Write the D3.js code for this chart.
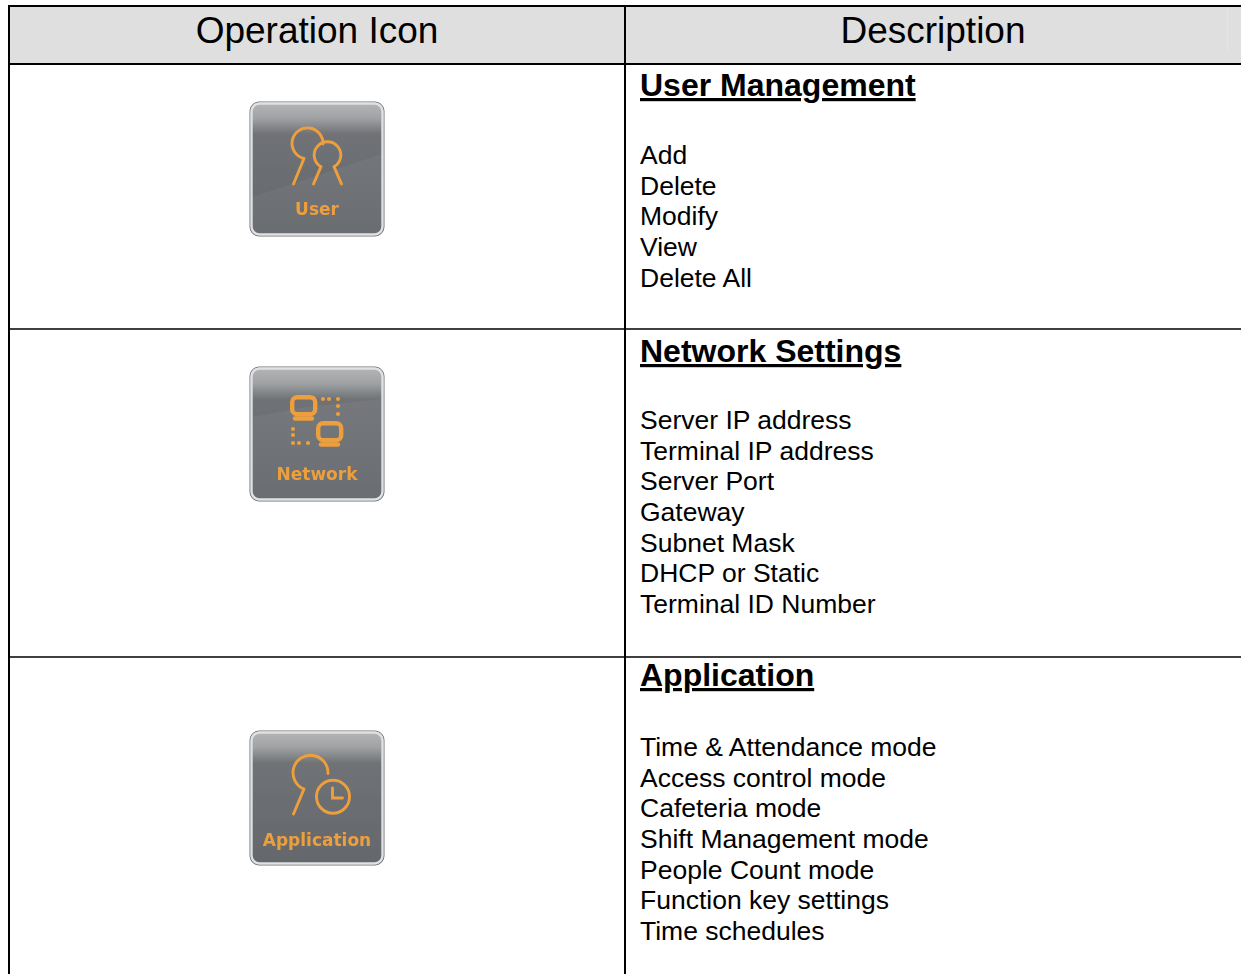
<!DOCTYPE html>
<html>
<head>
<meta charset="utf-8">
<script src="https://cdn.jsdelivr.net/npm/d3@7"></script>
<style>
    html, body { margin: 0; padding: 0; background: #fff; overflow: hidden; }
    svg { display: block; }
    text { font-family: "Liberation Sans", Arial, sans-serif; fill: #000; }
</style>
</head>
<body>
<svg id="table"></svg>
<script>
// table content
var headers = ["Operation Icon", "Description"];
var titles = ["User Management", "Network Settings", "Application"];
var iconLabels = ["User", "Network", "Application"];
var userItems = ["Add", "Delete", "Modify", "View", "Delete All"];
var networkItems = ["Server IP address", "Terminal IP address", "Server Port", "Gateway", "Subnet Mask", "DHCP or Static", "Terminal ID Number"];
var applicationItems = ["Time & Attendance mode", "Access control mode", "Cafeteria mode", "Shift Management mode", "People Count mode", "Function key settings", "Time schedules"];
var sections = [userItems, networkItems, applicationItems];

var w = 1241;
var h = 977;
var tableLeft = 9, mid = 625, tableTop = 6, headBottom = 64;
var rowLines = [329, 657];
var titleBase = [96, 362, 686];
var itemBase = [164, 429, 756];
var iconTop = [102, 367, 731];
var labelBase = [112.5, 112.5, 114.5];
var pitch = 30.65;
var iconSize = 134;
var orange = "#ee9f3c";

var svg = d3.select("#table").attr("width", w).attr("height", h);
var defs = svg.append("defs");

var grad = defs.append("linearGradient").attr("id", "iconBg")
    .attr("x1", 0).attr("y1", 0).attr("x2", 0).attr("y2", 1);
grad.append("stop").attr("offset", "0").attr("stop-color", "#b4b6b8");
grad.append("stop").attr("offset", "0.12").attr("stop-color", "#a0a2a4");
grad.append("stop").attr("offset", "0.24").attr("stop-color", "#6f7276");
grad.append("stop").attr("offset", "1").attr("stop-color", "#64676b");

defs.append("filter").attr("id", "soft")
    .append("feGaussianBlur").attr("stdDeviation", 0.45);

// header background
svg.append("rect").attr("x", tableLeft).attr("y", tableTop).attr("width", w - tableLeft).attr("height", headBottom - tableTop).attr("fill", "#dfdfdf");
svg.append("line").attr("x1", 1227.5).attr("x2", 1227.5).attr("y1", tableTop + 2).attr("y2", 50).attr("stroke", "#e6e6e6");

// grid lines
var hLines = [tableTop, headBottom].concat(rowLines);
svg.selectAll("line.h").data(hLines).enter().append("line")
    .attr("class", "h")
    .attr("x1", tableLeft - 1).attr("x2", w)
    .attr("y1", function (d) { return d; }).attr("y2", function (d) { return d; })
    .attr("stroke", "#000")
    .attr("stroke-width", function (d, i) { return i < 2 ? 2.2 : 1.6; });
svg.selectAll("line.v").data([tableLeft, mid]).enter().append("line")
    .attr("class", "v")
    .attr("x1", function (d) { return d; }).attr("x2", function (d) { return d; })
    .attr("y1", tableTop - 1).attr("y2", 974)
    .attr("stroke", "#000").attr("stroke-width", 2);

// headers
svg.selectAll("text.head").data(headers).enter().append("text")
    .attr("class", "head")
    .attr("x", function (d, i) { return i === 0 ? 317 : 933; })
    .attr("y", 43)
    .attr("text-anchor", "middle")
    .attr("font-size", 37)
    .text(function (d) { return d; });

// section titles
svg.selectAll("text.title").data(titles).enter().append("text")
    .attr("class", "title")
    .attr("x", 640)
    .attr("y", function (d, i) { return titleBase[i]; })
    .attr("font-size", 32)
    .attr("font-weight", "bold")
    .attr("text-decoration", "underline")
    .text(function (d) { return d; });

// section items
sections.forEach(function (items, s) {
    var y = d3.scaleLinear().domain([0, 1]).range([itemBase[s], itemBase[s] + pitch]);
    svg.selectAll("text.item" + s).data(items).enter().append("text")
        .attr("class", "item" + s)
        .attr("x", 640)
        .attr("y", function (d, i) { return y(i); })
        .attr("font-size", 26.5)
        .text(function (d) { return d; });
});

// icon drawings
function drawUser(g) {
    g.append("path").attr("d", "M54 56.5 A15.5 15.5 0 1 1 73 42 M54 56.5 L43.5 82");
    g.append("path").attr("d", "M71 64.7 A13.3 13.3 0 1 1 84 64.7 M71 64.7 L63.5 82 M84 64.7 L91.5 82");
}

function drawNetwork(g) {
    var monitors = [[40, 28], [66, 54]];
    monitors.forEach(function (m) {
        g.append("rect").attr("x", m[0] + 2.2).attr("y", m[1] + 2.2).attr("width", 23).attr("height", 17).attr("rx", 5).attr("stroke-width", 4.4);
        g.append("path").attr("d", "M" + (m[0] + 5) + " " + (m[1] + 23.5) + " h17").attr("stroke-width", 4.5);
    });
    var dots = [[73, 32], [79, 32], [88, 32], [88, 39], [88, 47], [43, 62], [43, 68], [43, 76], [49, 76], [58, 76]];
    g.selectAll("circle.dot").data(dots).enter().append("circle")
        .attr("class", "dot")
        .attr("cx", function (d) { return d[0]; })
        .attr("cy", function (d) { return d[1]; })
        .attr("r", 2.1)
        .attr("fill", orange).attr("stroke", "none");
}

function drawApplication(g) {
    g.append("path").attr("d", "M54 58 A17.5 17.5 0 1 1 78 42.5 M54 58 L43.5 83");
    g.append("circle").attr("cx", 83).attr("cy", 65.7).attr("r", 16.5);
    g.append("path").attr("d", "M82.5 57 V67 H92.5");
}

var drawers = [drawUser, drawNetwork, drawApplication];
var sheens = ["M2 95 L132 52 V132 H2 Z", "M2 50 L50 41 L132 32 V132 H2 Z", ""];

var icons = svg.selectAll("g.icon").data(iconLabels).enter().append("g")
    .attr("class", "icon")
    .attr("transform", function (d, i) { return "translate(250," + iconTop[i] + ")"; })
    .attr("filter", "url(#soft)");

icons.append("rect")
    .attr("width", iconSize).attr("height", iconSize).attr("rx", 9)
    .attr("fill", "url(#iconBg)")
    .attr("stroke", "#6e7074").attr("stroke-width", 1);
icons.append("path")
    .attr("d", function (d, i) { return sheens[i]; })
    .attr("fill", "#fff").attr("fill-opacity", 0.045);
icons.append("rect")
    .attr("x", 1.5).attr("y", 1.5)
    .attr("width", iconSize - 3).attr("height", iconSize - 3).attr("rx", 8)
    .attr("fill", "none")
    .attr("stroke", "#dfe1e3").attr("stroke-width", 2.4);

icons.each(function (d, i) {
    var g = d3.select(this).append("g")
        .attr("fill", "none")
        .attr("stroke", orange)
        .attr("stroke-width", 2.9)
        .attr("stroke-linecap", "round");
    drawers[i](g);
});

icons.append("text")
    .attr("x", iconSize / 2)
    .attr("y", function (d, i) { return labelBase[i]; })
    .attr("text-anchor", "middle")
    .attr("font-size", 17)
    .attr("font-weight", "bold")
    .style("font-family", "'DejaVu Sans', sans-serif")
    .style("fill", orange)
    .text(function (d) { return d; });
</script>
</body>
</html>
